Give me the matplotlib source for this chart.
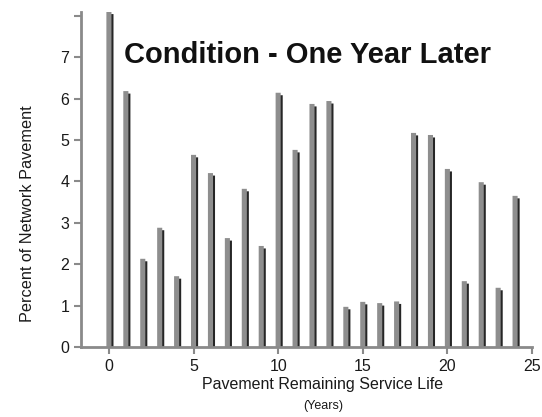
import matplotlib
matplotlib.use("Agg")
import matplotlib.pyplot as plt

years = list(range(25))
percent = [8.1, 6.18, 2.13, 2.88, 1.71, 4.64, 4.2, 2.63, 3.82, 2.44, 6.14, 4.76, 5.87, 5.94,
           0.97, 1.09, 1.06, 1.1, 5.17, 5.12, 4.3, 1.59, 3.98, 1.43, 3.65]
xticks = [0, 5, 10, 15, 20, 25]
yticks = [0, 1, 2, 3, 4, 5, 6, 7, 8]
ytick_labels = ["0", "1", "2", "3", "4", "5", "6", "7", ""]

plt.rcParams['font.family'] = ['Liberation Sans', 'DejaVu Sans']

fig = plt.figure(figsize=(5.42, 4.17), dpi=100)
ax = fig.add_axes([81/542, 1-347/417, (532-81)/542, (347-12)/417])

w = 0.3
ax.bar([x + 0.12 for x in years], [p - 0.06 for p in percent], width=w, color='#262626',
       align='center', zorder=2, snap=False, linewidth=0)
ax.bar(years, percent, width=w, color='#8e8e8e', align='center', zorder=3, snap=False,
       linewidth=0)

ax.set_xlim(-1.65, 25)
ax.set_ylim(0, 8.09)
ax.set_xticks(xticks)
ax.set_yticks(yticks)
ax.set_yticklabels(ytick_labels)
for s in ['top', 'right']:
    ax.spines[s].set_visible(False)
for s in ['left', 'bottom']:
    ax.spines[s].set_color('#8a8a8a')
    ax.spines[s].set_linewidth(2)
    ax.spines[s].set_zorder(4)
ax.tick_params(axis='both', colors='#8a8a8a', width=1.5, length=5, labelsize=11.5,
               labelcolor='#1a1a1a', direction='out')

ax.text(307/542, 1-55/417, "Condition - One Year Later", transform=fig.transFigure,
        ha='center', va='center', fontsize=21, fontweight='bold', color='#111111')

fig.text(28/542, 1-214/417, "Percent of Network Pavement", rotation=90, ha='center',
         va='center', fontsize=11.7, color='#1a1a1a')
fig.text(323/542, 1-384/417, "Pavement Remaining Service Life", ha='center', va='center',
         fontsize=11.5, color='#1a1a1a')
fig.text(323/542, 1-406/417, "(Years)", ha='center', va='center', fontsize=9,
         color='#1a1a1a')

fig.savefig("out.png", dpi=100)
